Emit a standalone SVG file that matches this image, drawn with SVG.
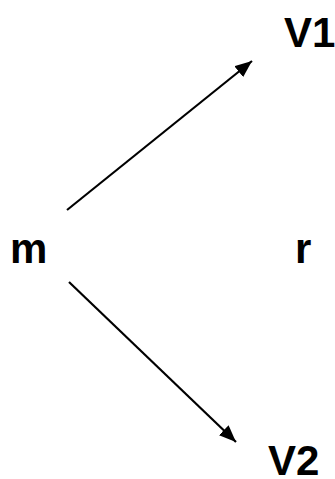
<svg xmlns="http://www.w3.org/2000/svg" width="335" height="479" viewBox="0 0 335 479">
<style>
.lbl{font-family:"Liberation Sans",Arial,sans-serif;font-weight:bold;font-size:42px;fill:#000}
.edge{stroke:#000;stroke-width:2.2;fill:none}
</style>
<defs>
<marker id="ah" markerUnits="userSpaceOnUse" markerWidth="18" markerHeight="14" refX="17" refY="7" orient="auto">
<path d="M0,0 L17,7 L0,14 z" fill="#000"/>
</marker>
</defs>
<rect width="335" height="479" fill="#fff"/>
<g id="connectors">
<line class="edge" x1="67" y1="210" x2="252" y2="61" marker-end="url(#ah)"/>
<line class="edge" x1="69" y1="282" x2="236" y2="442" marker-end="url(#ah)"/>
</g>
<g id="node-V1"><text class="lbl" x="284" y="47">V1</text></g>
<g id="node-m"><text class="lbl" x="10" y="263">m</text></g>
<g id="node-r"><text class="lbl" x="295" y="263">r</text></g>
<g id="node-V2"><text class="lbl" x="268" y="475">V2</text></g>
</svg>
